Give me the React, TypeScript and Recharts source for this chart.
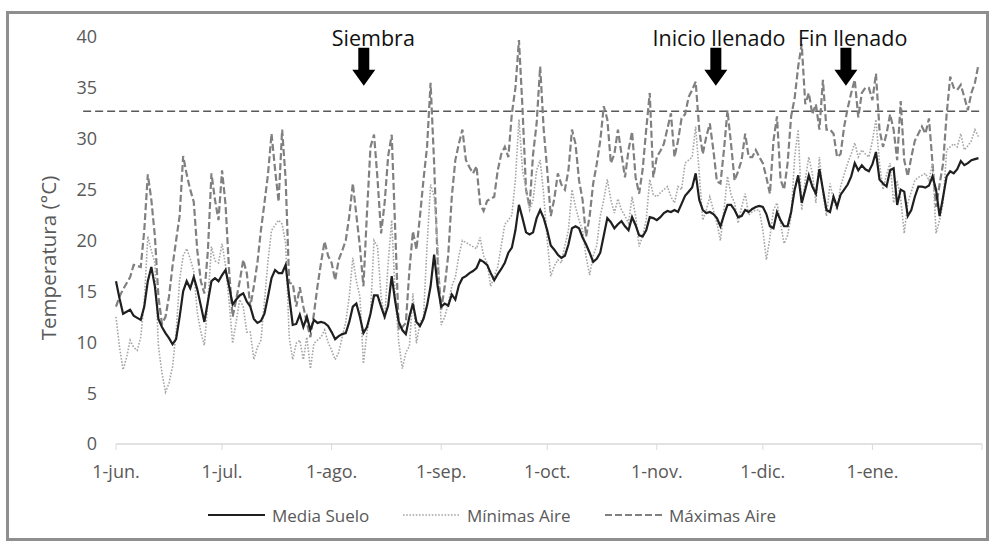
import React from 'react';
import { LineChart, Line, XAxis, YAxis, ReferenceLine, ReferenceDot } from 'recharts';

// Day offsets from 1-jun (daily series, 1-jun .. 31-ene)
const dayOffsets: number[] = Array.from({ length: 245 }, (_, i) => i);

const mediaSuelo: number[] = [
  16.0, 14.3, 12.8, 13.0, 13.2, 12.6, 12.4, 12.2, 13.5, 16.0,
  17.4, 15.5, 12.3, 11.5, 10.9, 10.4, 9.8, 10.3, 12.5, 15.0,
  16.0, 15.3, 16.4, 15.2, 13.6, 12.0, 14.0, 16.0, 16.3, 16.0,
  16.6, 17.1, 15.5, 13.7, 14.2, 14.6, 14.8, 14.0, 13.5, 12.3,
  11.9, 12.1, 12.8, 14.5, 16.3, 17.1, 16.8, 16.8, 17.6, 14.5,
  11.7, 11.8, 12.7, 11.5, 12.5, 11.2, 12.2, 11.9, 12.0, 11.9,
  11.6, 11.0, 10.3, 10.6, 10.8, 10.9, 12.0, 13.5, 13.8, 12.5,
  10.9, 11.5, 12.8, 14.6, 14.6, 13.5, 12.5, 13.6, 16.5, 14.0,
  12.0, 11.2, 10.8, 12.5, 13.8, 12.0, 11.6, 12.3, 13.6, 15.5,
  18.6, 15.5, 13.5, 13.8, 13.6, 14.7, 14.2, 15.6, 16.3, 16.5,
  16.8, 17.0, 17.3, 18.1, 17.9, 17.6, 16.8, 16.1, 16.7, 17.2,
  17.8, 18.8, 19.3, 21.0, 23.5, 22.2, 20.8, 20.6, 20.8, 22.2,
  23.0, 22.2, 21.0, 19.5, 19.1, 18.6, 18.3, 18.5, 19.6, 21.2,
  21.4, 21.2, 20.3, 19.6, 18.8, 17.9, 18.2, 18.8, 20.5, 22.2,
  21.8, 21.2, 21.6, 21.9, 21.4, 21.0, 22.3, 21.5, 20.5, 20.4,
  21.0, 22.3, 22.2, 22.0, 22.3, 22.7, 22.9, 22.8, 23.0, 22.8,
  23.6, 24.4, 24.8, 25.2, 26.6, 24.0, 23.0, 22.7, 22.8, 22.6,
  22.2, 21.4, 22.5, 23.5, 23.5, 23.0, 22.3, 22.4, 23.0, 22.8,
  23.1, 23.3, 23.4, 23.3, 22.6, 21.4, 21.2, 22.8, 22.0, 21.4,
  21.4, 22.8, 25.0, 26.4, 23.7, 25.0, 26.4, 25.3, 24.6, 27.0,
  25.0, 23.0, 22.8, 24.3, 23.3, 24.5, 25.0, 25.5, 26.3, 27.6,
  26.9, 27.4, 27.0, 26.8, 27.5, 28.7, 26.0, 25.6, 25.3, 26.9,
  27.1, 23.5, 25.0, 24.8, 22.4, 23.0, 24.3, 25.3, 25.3, 25.2,
  25.4, 26.3, 25.0, 22.4, 24.3, 26.3, 26.8, 26.6, 27.0, 27.8,
  27.4, 27.6, 27.9, 28.0, 28.1,
];

const minimasAire: number[] = [
  12.5, 9.5, 7.3, 8.5, 10.2, 9.5, 9.2, 10.5, 14.0, 20.4,
  19.0, 17.8, 9.6, 7.0, 5.1, 6.0, 7.6, 11.0, 16.1, 18.5,
  19.2, 18.2, 17.0, 12.9, 11.0, 9.7, 14.0, 19.4, 18.0, 17.8,
  19.7, 17.5, 14.0, 9.9, 12.0, 14.2, 13.5, 11.0, 11.0, 8.3,
  9.5, 10.2, 14.0, 18.0, 21.0, 21.5, 22.0, 21.6, 19.7, 10.5,
  8.3, 9.9, 10.2, 8.3, 10.5, 7.4, 9.9, 10.2, 10.5, 11.2,
  10.0, 9.2, 8.3, 9.0, 10.5, 12.0, 14.5, 18.3, 16.0, 14.5,
  7.9, 11.0, 12.8, 20.0, 19.4, 14.5, 12.2, 17.8, 22.0, 14.5,
  10.0, 7.4, 9.0, 9.6, 14.8, 9.9, 11.9, 12.5, 19.5, 25.5,
  24.3, 19.7, 11.7, 12.5, 13.8, 15.5, 16.4, 18.5, 20.0, 19.8,
  19.6, 19.4, 19.2, 20.3, 18.5, 17.8, 15.5, 16.5, 17.4, 19.5,
  21.6, 22.0, 22.5, 26.0, 31.9, 26.9, 25.0, 23.0, 24.0, 26.9,
  27.9, 24.5, 20.0, 16.5, 17.5, 18.1, 17.8, 19.5, 21.0, 25.0,
  23.3, 22.0, 21.0, 18.4, 16.6, 18.5, 19.5, 22.4, 24.0, 26.0,
  24.0, 22.7, 24.1, 23.0, 22.4, 21.7, 24.3, 22.4, 19.4, 20.5,
  22.0, 26.0, 24.5, 24.3, 24.7, 25.0, 25.3, 24.3, 23.7, 25.3,
  25.0, 27.6, 27.9, 28.2, 31.2, 26.6, 22.0, 23.0, 24.3, 23.0,
  21.7, 20.0, 23.0, 26.3, 24.5, 23.7, 21.7, 23.3, 24.6, 22.5,
  22.8, 23.0, 23.0, 21.0, 18.1, 20.3, 23.0, 23.7, 21.7, 19.7,
  20.5, 22.4, 28.2, 30.9, 23.0, 26.0, 28.2, 26.6, 23.7, 28.2,
  24.6, 22.4, 25.6, 24.0, 23.0, 25.3, 26.5, 27.6, 28.5, 29.6,
  28.2, 28.9, 28.5, 28.2, 29.8, 31.9, 27.6, 25.0, 26.5, 27.6,
  23.7, 25.9, 24.1, 20.7, 23.7, 24.8, 25.9, 26.2, 26.4, 26.6,
  25.9, 27.6, 20.7, 22.0, 23.7, 28.9, 29.2, 29.5, 29.2, 30.5,
  28.9, 29.3, 29.8, 30.9, 30.2,
];

const maximasAire: number[] = [
  13.5, 14.5, 15.2, 15.8, 16.4, 17.6, 17.5, 17.4, 21.0, 26.5,
  24.0, 20.4, 14.5, 11.8, 12.5, 14.5, 17.5, 20.0, 22.4, 28.3,
  26.5, 25.0, 23.8, 19.0, 16.0, 14.8, 19.0, 26.6, 24.0, 22.0,
  26.9, 23.5, 17.0, 12.5, 14.2, 16.0, 18.1, 16.8, 13.5, 15.5,
  17.8, 21.0, 23.7, 26.5, 30.5, 27.0, 23.8, 30.9, 26.0, 15.8,
  15.8, 13.5, 15.4, 13.5, 11.9, 10.5, 12.8, 15.5, 17.8, 19.9,
  18.5, 17.8, 16.1, 18.1, 19.0, 20.0, 22.4, 25.6, 22.5, 19.4,
  15.5, 22.7, 29.2, 30.4, 26.0, 20.7, 23.7, 28.3, 30.4, 21.0,
  11.2, 11.5, 11.9, 17.0, 20.9, 19.1, 22.4, 26.0, 29.2, 35.5,
  27.6, 17.8, 13.2, 15.5, 18.6, 24.3, 27.9, 29.5, 30.9, 27.9,
  27.2, 26.6, 27.3, 23.6, 22.9, 23.9, 24.1, 24.3, 26.9, 28.5,
  29.2, 28.2, 32.5, 35.0, 39.7, 33.0, 25.0, 23.3, 28.5, 31.5,
  37.1, 30.9, 26.9, 22.4, 24.1, 26.6, 25.5, 25.0, 26.9, 30.9,
  29.5, 25.9, 24.0, 20.4, 22.4, 25.6, 27.5, 29.8, 33.2, 31.9,
  27.6, 28.5, 30.9, 28.5, 26.2, 28.9, 30.7, 26.2, 24.6, 27.0,
  30.9, 34.5, 26.2, 28.2, 28.8, 29.5, 31.0, 32.5, 28.2, 29.8,
  32.0, 32.4, 34.1, 34.8, 35.6, 30.9, 28.5, 30.2, 31.5, 28.9,
  25.8, 25.6, 28.9, 32.8, 29.5, 25.9, 26.8, 27.9, 30.5, 28.2,
  28.2, 28.9, 28.2, 27.6, 26.2, 24.6, 29.8, 32.2, 26.0, 25.0,
  27.6, 32.2, 34.0, 37.1, 39.3, 33.4, 34.5, 32.4, 33.4, 30.9,
  35.8, 30.9, 30.9, 30.5, 28.2, 28.5, 31.2, 33.0, 34.5, 35.8,
  32.1, 34.5, 35.0, 35.0, 33.8, 36.4, 30.9, 29.2, 30.5, 32.4,
  30.9, 27.9, 33.7, 27.9, 26.3, 28.2, 29.8, 30.5, 31.2, 30.5,
  32.0, 27.6, 23.3, 25.5, 27.6, 32.4, 36.1, 35.0, 34.8, 35.3,
  34.1, 32.8, 34.5, 35.5, 37.3,
];

const monthTickDays: number[] = [0, 30, 61, 92, 122, 153, 183, 214, 245];
const monthTickLabels: string[] = ['1-jun.', '1-jul.', '1-ago.', '1-sep.', '1-oct.', '1-nov.', '1-dic.', '1-ene.', ''];
const tempTicks: number[] = [0, 5, 10, 15, 20, 25, 30, 35, 40];

const thresholdTemp = 32.7;
const thresholdStartDay = -9.3;

const annotationLabels: string[] = ['Siembra', 'Inicio llenado', 'Fin llenado'];
const annotationArrowDays: number[] = [70.1, 169.7, 206.5];
const annotationTextDays: number[] = [72.8, 170.6, 208.4];
const arrowTipTemp = 35.2;
const labelBaselineTemp = 39.1;

const seriesNames = ['Media Suelo', 'Mínimas Aire', 'Máximas Aire'];

const data = dayOffsets.map((d, i) => ({
  day: d,
  media: mediaSuelo[i],
  min: minimasAire[i],
  max: maximasAire[i],
}));

const FONT = '"Open Sans", sans-serif';
const GREY_TEXT = '#595959';

const ArrowShape = (props: any) => {
  const { cx, cy } = props;
  if (cx == null || cy == null) return null;
  const pts = [
    [cx - 5.5, cy - 38],
    [cx + 5.5, cy - 38],
    [cx + 5.5, cy - 16],
    [cx + 11.5, cy - 16],
    [cx, cy],
    [cx - 11.5, cy - 16],
    [cx - 5.5, cy - 16],
  ]
    .map((p) => p.join(','))
    .join(' ');
  return <polygon points={pts} fill="#000" />;
};

const makeTextShape = (label: string) => (props: any) => {
  const { cx, cy } = props;
  if (cx == null || cy == null) return null;
  return (
    <text x={cx} y={cy} textAnchor="middle" fontFamily={FONT} fontSize={21.5} fill="#111">
      {label}
    </text>
  );
};

const LegendItem = ({ left, dash, color, width, label }: any) => (
  <div style={{ position: 'absolute', left, top: 505, height: 20, display: 'flex', alignItems: 'center' }}>
    <svg width={60} height={20} style={{ display: 'block' }}>
      <line x1={0} x2={57} y1={10} y2={10} stroke={color} strokeWidth={width} strokeDasharray={dash} />
    </svg>
    <span style={{ fontFamily: FONT, fontSize: 17, color: GREY_TEXT, marginLeft: 4, whiteSpace: 'nowrap' }}>{label}</span>
  </div>
);

export default function App() {
  return (
    <div style={{ position: 'absolute', left: 0, top: 0, width: 997, height: 546, background: '#fff', overflow: 'hidden' }}>
      <div
        style={{
          position: 'absolute',
          left: 6,
          top: 11,
          width: 983,
          height: 530,
          border: '3px solid #8f8f8f',
          boxSizing: 'border-box',
        }}
      />
      <div style={{ position: 'absolute', left: 0, top: 0 }}>
        <LineChart width={997} height={546} data={data} margin={{ top: 37, right: 15, bottom: 72, left: 56 }}>
          <XAxis
            dataKey="day"
            type="number"
            domain={[0, 245]}
            ticks={monthTickDays}
            interval={0}
            tickFormatter={(v: number) => monthTickLabels[monthTickDays.indexOf(v)] ?? ''}
            stroke="#d9d9d9"
            tickLine={{ stroke: '#d9d9d9' }}
            axisLine={{ stroke: '#d9d9d9', strokeWidth: 1.5 }}
            tickSize={6}
            tickMargin={15}
            tick={{ fill: GREY_TEXT, fontSize: 18, fontFamily: FONT }}
            height={30}
          />
          <YAxis
            type="number"
            domain={[0, 40]}
            ticks={tempTicks}
            interval={0}
            axisLine={false}
            tickLine={false}
            tickSize={6}
            tickMargin={13}
            width={60}
            tick={{ fill: GREY_TEXT, fontSize: 18, fontFamily: FONT }}
          />
          <ReferenceLine
            segment={[
              { x: thresholdStartDay, y: thresholdTemp },
              { x: 245, y: thresholdTemp },
            ]}
            ifOverflow="visible"
            stroke="#595959"
            strokeWidth={1.5}
            strokeDasharray="8 4"
          />
          <Line
            dataKey="max"
            name={seriesNames[2]}
            type="linear"
            stroke="#808080"
            strokeWidth={2.2}
            strokeDasharray="7 3"
            dot={false}
            isAnimationActive={false}
          />
          <Line
            dataKey="min"
            name={seriesNames[1]}
            type="linear"
            stroke="#a6a6a6"
            strokeWidth={1.6}
            strokeDasharray="1.6 1.6"
            dot={false}
            isAnimationActive={false}
          />
          <Line
            dataKey="media"
            name={seriesNames[0]}
            type="linear"
            stroke="#1f1f1f"
            strokeWidth={2.2}
            dot={false}
            isAnimationActive={false}
          />
          {annotationArrowDays.map((d, i) => (
            <ReferenceDot key={'a' + i} x={d} y={arrowTipTemp} ifOverflow="visible" shape={ArrowShape} />
          ))}
          {annotationTextDays.map((d, i) => (
            <ReferenceDot
              key={'t' + i}
              x={d}
              y={labelBaselineTemp}
              ifOverflow="visible"
              shape={makeTextShape(annotationLabels[i])}
            />
          ))}
        </LineChart>
      </div>
      <div
        style={{
          position: 'absolute',
          left: 48,
          top: 258,
          transform: 'translate(-50%, -50%) rotate(-90deg)',
          fontFamily: FONT,
          fontSize: 20.5,
          color: GREY_TEXT,
          whiteSpace: 'nowrap',
        }}
      >
        Temperatura (°C)
      </div>
      <LegendItem left={208} dash={undefined} color="#1f1f1f" width={2} label={seriesNames[0]} />
      <LegendItem left={403} dash="1.6 1.6" color="#a6a6a6" width={1.6} label={seriesNames[1]} />
      <LegendItem left={605} dash="7 3" color="#808080" width={2} label={seriesNames[2]} />
    </div>
  );
}
